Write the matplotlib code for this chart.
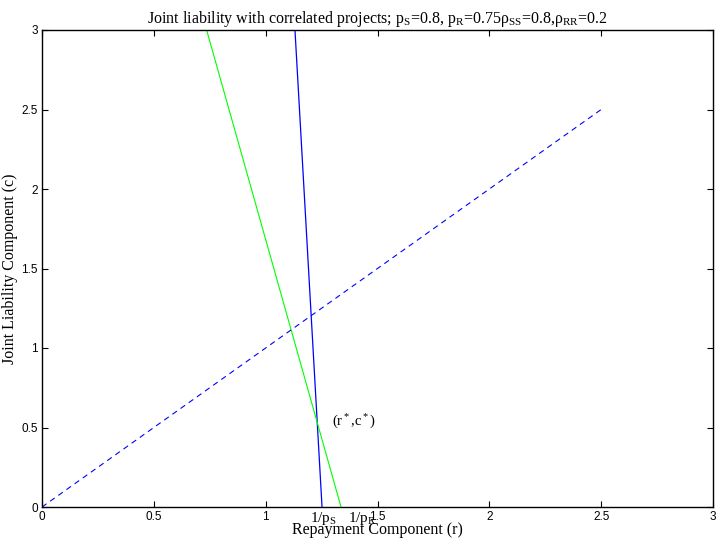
import matplotlib
matplotlib.use("Agg")
import matplotlib.pyplot as plt

plt.rcParams['mathtext.fontset'] = 'custom'
plt.rcParams['mathtext.rm'] = 'Liberation Serif'
plt.rcParams['mathtext.it'] = 'Liberation Serif'
plt.rcParams['mathtext.bf'] = 'Liberation Serif:bold'

# Data
safe_r = [1.252, 1.131]      # blue solid line (r values)
safe_c = [0.0, 3.0]          # blue solid line (c values)
risky_r = [1.337, 0.736]     # green line
risky_c = [0.0, 3.0]
diag_r = [0.0, 2.5]          # blue dashed line
diag_c = [0.0, 2.5]
ticks = [0, 0.5, 1, 1.5, 2, 2.5, 3]
tick_labels = ["0", "0.5", "1", "1.5", "2", "2.5", "3"]

fig = plt.figure(figsize=(7.19, 5.46), dpi=100)
ax = fig.add_axes([42/719, 39/546, 671/719, 477/546])

ax.plot(safe_r, safe_c, color=(0, 0, 1), lw=0.9)
ax.plot(risky_r, risky_c, color=(0, 1, 0), lw=0.8)
ax.plot(diag_r, diag_c, color=(0, 0, 1), lw=0.8, linestyle=(0, (5, 4)))

ax.set_xlim(0, 3)
ax.set_ylim(0, 3)
ax.set_xticks(ticks)
ax.set_xticklabels(tick_labels)
ax.set_yticks(ticks)
ax.set_yticklabels(tick_labels)
ax.tick_params(direction='in', top=True, right=True, length=4.5, width=0.8,
               labelsize=8.5, pad=3)
for lab in ax.get_xticklabels() + ax.get_yticklabels():
    lab.set_family('Liberation Sans')
for s in ax.spines.values():
    s.set_linewidth(1.0)

serif = 'Liberation Serif'
ax.set_title(r"Joint liability with correlated projects; $\mathrm{p_S}$=0.8, $\mathrm{p_R}$=0.75$\rho_{\mathrm{SS}}$=0.8,$\rho_{\mathrm{RR}}$=0.2",
             family=serif, fontsize=11.5, pad=5)
ax.set_xlabel("Repayment Component (r)", family=serif, fontsize=11.5)
ax.xaxis.set_label_coords(0.5, -0.031)
ax.set_ylabel("Joint Liability Component (c)", family=serif, fontsize=11.5)
ax.yaxis.set_label_coords(-0.036, 0.5)

ax.text(1.2, -0.095, r"1/p$_\mathrm{S}$", family=serif, fontsize=11,
        ha='left', va='baseline', clip_on=False)
ax.text(1.37, -0.095, r"1/p$_\mathrm{R}$", family=serif, fontsize=11,
        ha='left', va='baseline', clip_on=False)
ax.text(1.297, 0.535, r"(r$^*$,c$^*$)", family=serif, fontsize=10.5,
        ha='left', va='center')

fig.savefig("out.png", dpi=100)
